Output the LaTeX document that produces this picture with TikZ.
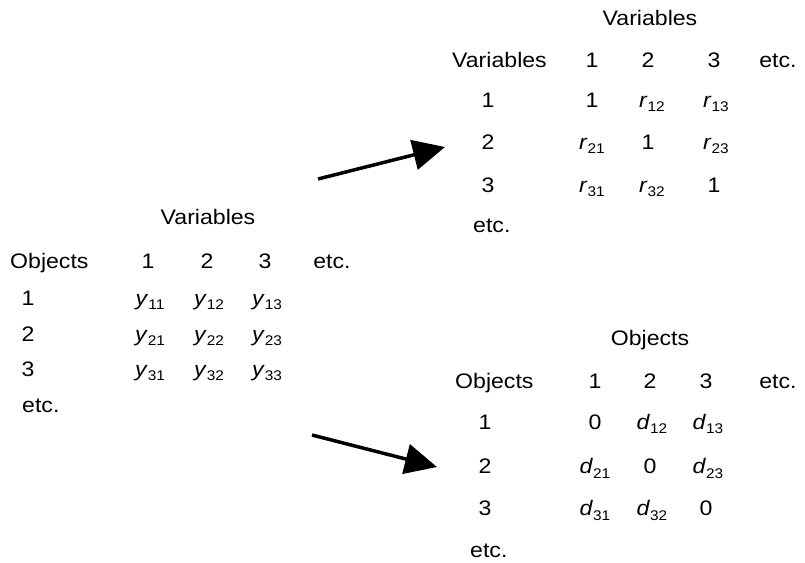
\documentclass[tikz,border=0pt]{standalone}
\usepackage{fontspec}
\setmainfont{Liberation Sans}[FakeStretch=1.1]
\usetikzlibrary{arrows.meta}
\newcommand\entry[2]{\textit{#1}\raisebox{-0.45ex}{\fontsize{14pt}{14pt}\selectfont #2}}
\begin{document}
\begin{tikzpicture}[x=1pt,y=-1pt,
  every node/.style={font=\fontsize{21pt}{24pt}\selectfont, inner sep=0pt},
  lbl/.style={anchor=base west},
  cell/.style={anchor=base},
  arr/.style={line width=3.5pt, -{Triangle[length=32pt,width=30pt]}}]
\useasboundingbox (0,0) rectangle (805,562);
% ---- left table
\node[cell] (lt) at (208,224) {Variables};
\node[lbl] (lh) at (10,268) {Objects};
\node[cell] (lc1) at (148,268) {1};
\node[cell] (lc2) at (207,268) {2};
\node[cell] (lc3) at (265,268) {3};
\node[cell] (lce) at (332,268) {etc.};
\node[cell] (lr1) at (28,305) {1};
\node[cell] (lr2) at (28,341) {2};
\node[cell] (lr3) at (28,376) {3};
\node[lbl] (lre) at (22,412) {etc.};
\node[cell] (l11) at (150,305) {\entry{y}{11}};
\node[cell] (l12) at (209,305) {\entry{y}{12}};
\node[cell] (l13) at (267,305) {\entry{y}{13}};
\node[cell] (l21) at (150,341) {\entry{y}{21}};
\node[cell] (l22) at (209,341) {\entry{y}{22}};
\node[cell] (l23) at (267,341) {\entry{y}{23}};
\node[cell] (l31) at (150,376) {\entry{y}{31}};
\node[cell] (l32) at (209,376) {\entry{y}{32}};
\node[cell] (l33) at (267,376) {\entry{y}{33}};
% ---- top right table
\node[cell] (tt) at (650,25) {Variables};
\node[lbl] (th) at (452,67) {Variables};
\node[cell] (tc1) at (592,67) {1};
\node[cell] (tc2) at (648,67) {2};
\node[cell] (tc3) at (714,67) {3};
\node[cell] (tce) at (778,67) {etc.};
\node[cell] (tr1) at (488,107) {1};
\node[cell] (tr2) at (488,149) {2};
\node[cell] (tr3) at (488,192) {3};
\node[lbl] (tre) at (473,232) {etc.};
\node[cell] (t11) at (592,107) {1};
\node[cell] (t12) at (652,107) {\entry{r}{12}};
\node[cell] (t13) at (716,107) {\entry{r}{13}};
\node[cell] (t21) at (592,149) {\entry{r}{21}};
\node[cell] (t22) at (648,149) {1};
\node[cell] (t23) at (716,149) {\entry{r}{23}};
\node[cell] (t31) at (592,192) {\entry{r}{31}};
\node[cell] (t32) at (652,192) {\entry{r}{32}};
\node[cell] (t33) at (714,192) {1};
% ---- bottom right table
\node[cell] (bt) at (650,345) {Objects};
\node[lbl] (bh) at (455,388) {Objects};
\node[cell] (bc1) at (595,388) {1};
\node[cell] (bc2) at (650,388) {2};
\node[cell] (bc3) at (706,388) {3};
\node[cell] (bce) at (778,388) {etc.};
\node[cell] (br1) at (485,429) {1};
\node[cell] (br2) at (485,473) {2};
\node[cell] (br3) at (485,515) {3};
\node[lbl] (bre) at (470,557) {etc.};
\node[cell] (b11) at (595,429) {0};
\node[cell] (b12) at (652,429) {\entry{d}{12}};
\node[cell] (b13) at (708,429) {\entry{d}{13}};
\node[cell] (b21) at (595,473) {\entry{d}{21}};
\node[cell] (b22) at (650,473) {0};
\node[cell] (b23) at (708,473) {\entry{d}{23}};
\node[cell] (b31) at (595,515) {\entry{d}{31}};
\node[cell] (b32) at (652,515) {\entry{d}{32}};
\node[cell] (b33) at (706,515) {0};
% ---- arrows
\coordinate (a1s) at (318,179);
\coordinate (a1e) at (445,147);
\coordinate (a2s) at (312,435);
\coordinate (a2e) at (437,467);
\draw[arr] (a1s) -- (a1e);
\draw[arr] (a2s) -- (a2e);
\end{tikzpicture}
\end{document}
